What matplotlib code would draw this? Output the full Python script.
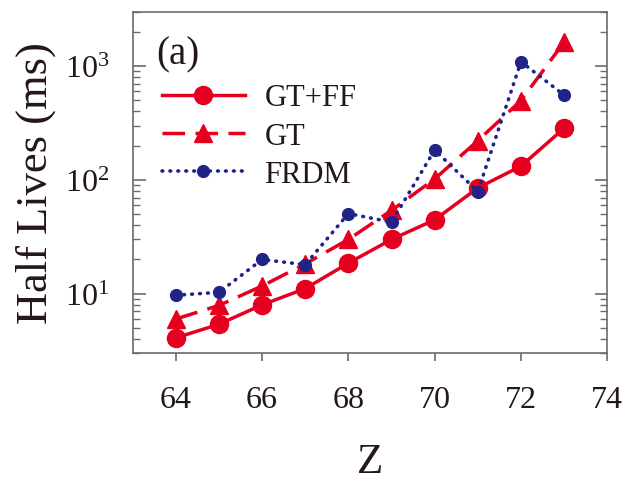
import numpy as np
import matplotlib
matplotlib.use('Agg')
import matplotlib.pyplot as plt

plt.rcParams['font.family'] = 'Liberation Serif'
plt.rcParams['mathtext.fontset'] = 'custom'
plt.rcParams['mathtext.rm'] = 'Liberation Serif'

# half lives (ms)
z = [64, 65, 66, 67, 68, 69, 70, 71, 72, 73]
gt_ff = [4.1, 5.4, 8.0, 11.1, 18.6, 30, 44.6, 85, 132, 284]
gt = [6.0, 7.9, 11.7, 18.3, 30, 54, 102, 221, 497, 1620]
frdm = [9.7, 10.3, 20, 18, 50.6, 42.6, 183, 79, 1090, 556]

red = '#e60020'
blue = '#1e2587'
txt = '#231815'
frame = '#6b6b6b'

fig = plt.figure(figsize=(6.26, 4.81), dpi=100)
ax = fig.add_axes([0.212, 0.2634, 0.758, 0.7102])

ax.plot(z, gt_ff, '-', color=red, lw=2.5, marker='o', ms=13, label='GT+FF')
ax.plot(z, gt, color=red, lw=2.5, dashes=(6.5, 3), marker='^', ms=13, label='GT')
ax.plot(z, frdm, color=blue, lw=2.6, dashes=(0.2, 2.0), dash_capstyle='round',
        marker='o', ms=8.5, label='FRDM')

ax.set_yscale('log')
ax.set_xlim(63, 74)
ax.set_ylim(3, 3000)
ax.set_xticks([64, 66, 68, 70, 72, 74])

for s in ax.spines.values():
    s.set_color(frame)
    s.set_linewidth(1.2)

ax.tick_params(axis='x', which='major', direction='out', length=6, width=1.2,
               color=frame, labelsize=23, labelcolor=txt, pad=17, top=False)
ax.tick_params(axis='x', which='minor', bottom=False, top=False)
ax.tick_params(axis='y', which='major', direction='in', length=9, width=1.2,
               color=frame, labelsize=23, labelcolor=txt, pad=17, right=True)
ax.tick_params(axis='y', which='minor', direction='in', length=5, width=1.0,
               color=frame, right=True)

ax.set_xlabel('Z', fontsize=31, color=txt, labelpad=20)
ax.set_ylabel('Half Lives (ms)', fontsize=32, color=txt, labelpad=6)

ax.text(0.05, 0.875, '(a)', transform=ax.transAxes, fontsize=28, color=txt,
        va='center', ha='left')

leg = ax.legend(loc='upper left', bbox_to_anchor=(0.062, 0.79), frameon=False,
                fontsize=22, handlelength=2.7, handletextpad=0.65,
                labelspacing=0.3, borderaxespad=0, borderpad=0)
for t in leg.get_texts():
    t.set_color(txt)

fig.savefig('out.png', dpi=100)
